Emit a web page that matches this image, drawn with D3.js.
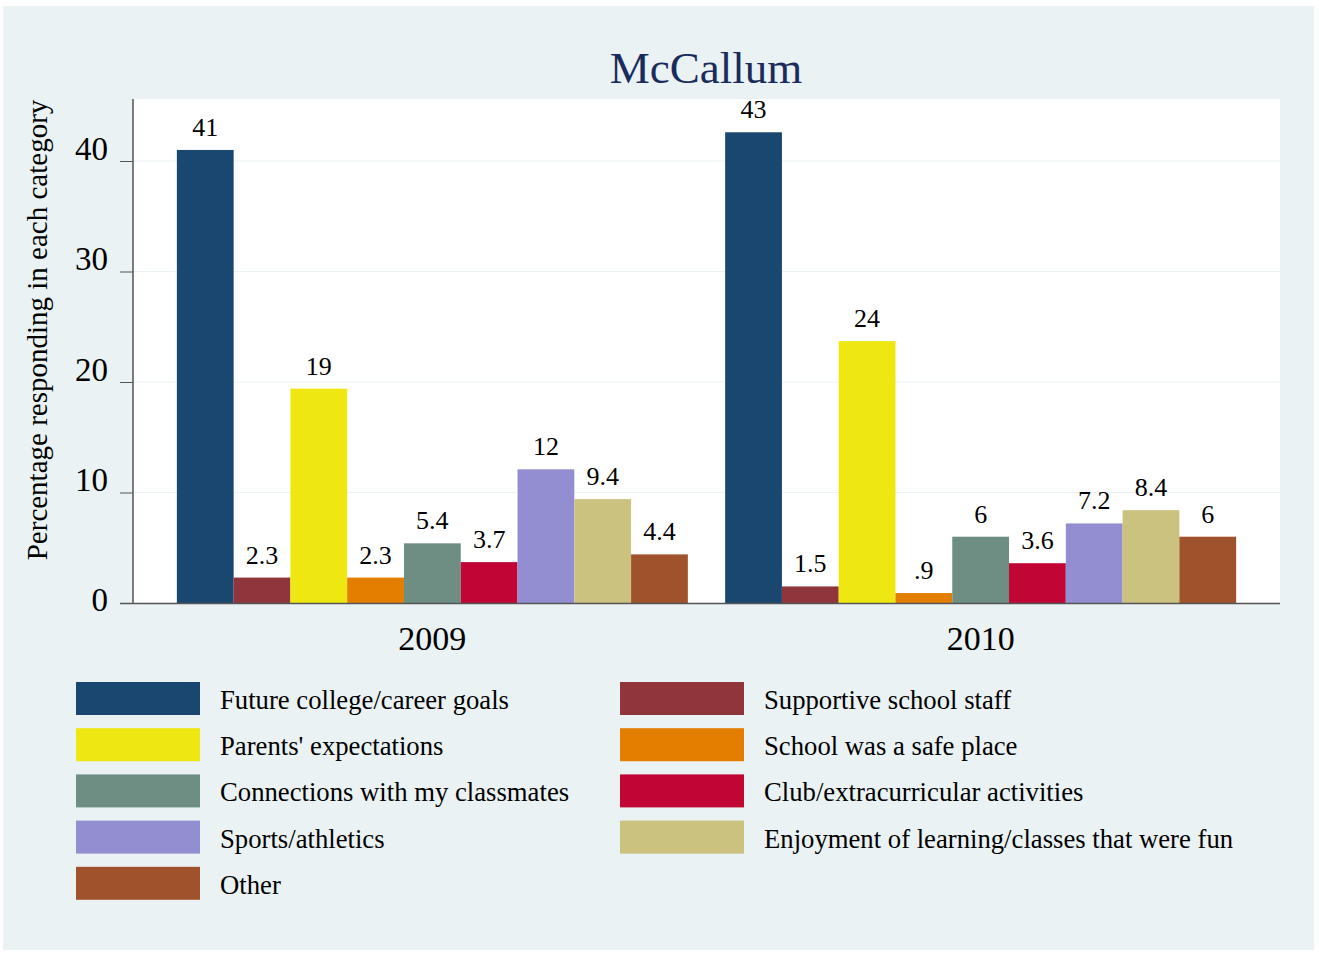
<!DOCTYPE html>
<html><head><meta charset="utf-8">
<script src="https://cdn.jsdelivr.net/npm/d3@7"></script>
<style>body{margin:0;background:#fff}svg{display:block}text{font-family:"Liberation Serif","Times New Roman",serif}</style>
</head><body><svg id="c" width="1319" height="953"></svg>
<script>
const years = ["2009", "2010"];
const categories = ["Future college/career goals", "Supportive school staff", "Parents' expectations", "School was a safe place", "Connections with my classmates", "Club/extracurricular activities", "Sports/athletics", "Enjoyment of learning/classes that were fun", "Other"];
const values2009 = [41.0, 2.3, 19.4, 2.3, 5.4, 3.7, 12.1, 9.4, 4.4];
const values2010 = [42.6, 1.5, 23.7, 0.9, 6.0, 3.6, 7.2, 8.4, 6.0];
const colors = ["#1a476f", "#90353b", "#eee712", "#e37e00", "#6e8e84", "#c10534", "#938dd2", "#cac27e", "#a0522d"];
const yTicks = [0, 10, 20, 30, 40];
const legendOrder = [0, 1, 2, 3, 4, 5, 6, 7, 8];

const svg = d3.select("#c");
svg.append("rect").attr("x",3).attr("y",6).attr("width",1311).attr("height",944).attr("fill","#eaf2f3");

const L=133, R=1280, T=99, B=603;
svg.append("rect").attr("x",L).attr("y",T).attr("width",R-L).attr("height",B-T).attr("fill","#fff");

const y = d3.scaleLinear().domain([0,40]).range([B,161]);
const x0 = d3.scaleBand().domain(years).range([L,R]).paddingInner(0.068).paddingOuter(0.08);
const x1 = d3.scaleBand().domain(d3.range(categories.length)).range([0,x0.bandwidth()]);

// gridlines
svg.append("g").selectAll("line").data(yTicks.filter(d=>d>0)).join("line")
  .attr("x1",L).attr("x2",R).attr("y1",d=>y(d)).attr("y2",d=>y(d))
  .attr("stroke","#eaf2f3").attr("stroke-width",1);

const data = [values2009, values2010];
const fmt = v => d3.format(".2")(v).replace(/^0\./, ".");
years.forEach((yr,gi)=>{
  const g = svg.append("g").attr("transform",`translate(${x0(yr)},0)`);
  g.selectAll("rect").data(data[gi]).join("rect")
    .attr("x",(d,i)=>x1(i)).attr("width",x1.bandwidth())
    .attr("y",d=>y(d)).attr("height",d=>B-y(d))
    .attr("fill",(d,i)=>colors[i]);
  g.selectAll("text").data(data[gi]).join("text")
    .attr("x",(d,i)=>x1(i)+x1.bandwidth()/2).attr("y",d=>y(d)-14)
    .attr("text-anchor","middle").attr("font-size",26).attr("fill","#000")
    .text(d=>fmt(d));
});

// y axis
const yAxis = d3.axisLeft(y).tickValues(yTicks).tickSize(13).tickPadding(12);
const ga = svg.append("g").attr("transform",`translate(${L},0)`).call(yAxis);
ga.select(".domain").attr("d",`M0,${T}V${B}`).attr("stroke","#000");
ga.selectAll(".tick line").attr("stroke","#555");
ga.selectAll(".tick text").attr("font-size",33).attr("font-family","Liberation Serif").attr("fill","#000").attr("dy",d=>d===0?"0.24em":"-0.06em");
// x axis line
svg.append("line").attr("x1",120).attr("x2",R).attr("y1",B+0.5).attr("y2",B+0.5).attr("stroke","#555").attr("stroke-width",1.5);

// x labels
svg.append("g").selectAll("text").data(years).join("text")
  .attr("x",d=>x0(d)+x0.bandwidth()/2).attr("y",650).attr("text-anchor","middle")
  .attr("font-size",34).attr("fill","#000").text(d=>d);

// title
svg.append("text").attr("x",706).attr("y",83).attr("text-anchor","middle")
  .attr("font-size",45).attr("fill","#1a2c5b").text("McCallum");

// y title
svg.append("text").attr("transform","translate(47,330) rotate(-90)").attr("text-anchor","middle")
  .attr("font-size",29).attr("fill","#000").text("Percentage responding in each category");

// legend
const lg = svg.append("g");
legendOrder.forEach((ci,k)=>{
  const col = k%2, row = Math.floor(k/2);
  const sx = col===0 ? 76 : 620;
  const sy = 682 + row*46.2;
  lg.append("rect").attr("x",sx).attr("y",sy).attr("width",124).attr("height",33).attr("fill",colors[ci]);
  lg.append("text").attr("x",sx+144).attr("y",sy+27).attr("font-size",26.7).attr("fill","#000").text(categories[ci]);
});
</script></body></html>
